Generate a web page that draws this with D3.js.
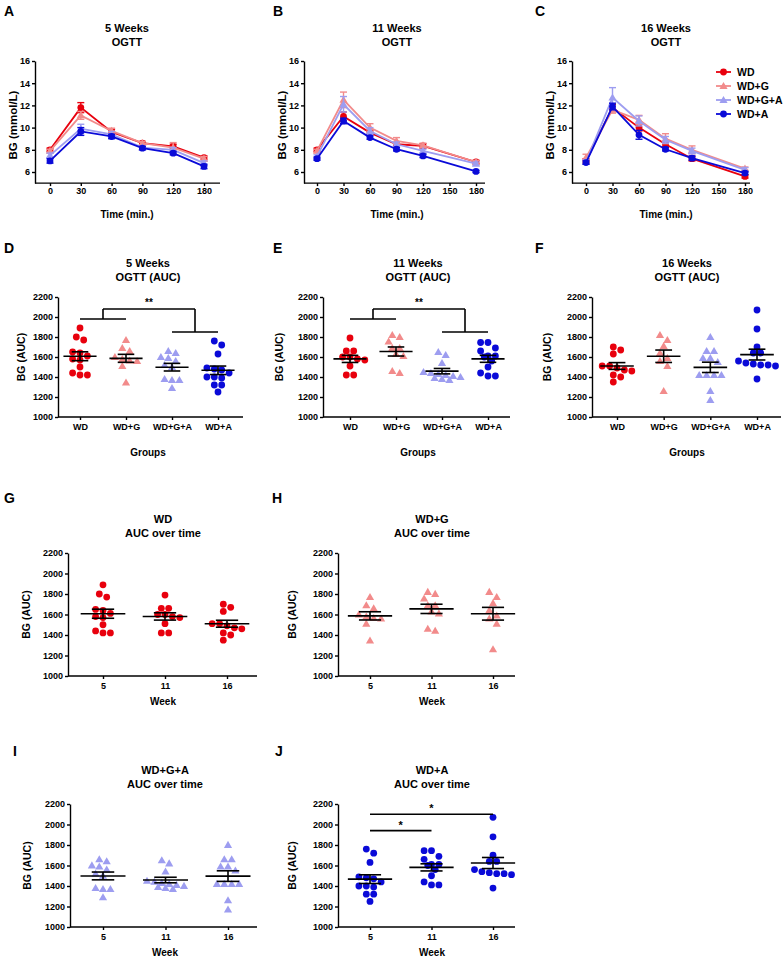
<!DOCTYPE html>
<html><head><meta charset="utf-8">
<script src="https://cdn.jsdelivr.net/npm/d3@7"></script>
<style>
body{margin:0;background:#fff;}
text{font-family:"Liberation Sans",Arial,sans-serif;font-weight:bold;fill:#000;}
.ax path,.ax line{stroke:#000;stroke-width:1.4;}
.ax text{font-size:9px;font-family:"Liberation Sans",Arial,sans-serif;font-weight:bold;}
</style>
</head><body>
<svg id="c" width="783" height="959"></svg>
<script>
// ---------------- DATA ----------------
const groups = ["WD", "WD+G", "WD+G+A", "WD+A"];
const groupColors = ["#e8000d", "#f28b8b", "#9d9df0", "#0a0ad8"];
const groupShapes = ["circle", "triangle", "triangle", "circle"];
const times = [0, 30, 60, 90, 120, 180];
const weekLabels = ["5", "11", "16"];

// OGTT means (rows: WD, WD+G, WD+G+A, WD+A) and SEMs, mmol/L
const ogtt5Mean = [
  [8.0, 11.8, 9.6, 8.6, 8.3, 7.3],
  [7.9, 11.1, 9.7, 8.6, 8.2, 7.2],
  [7.5, 9.9, 9.4, 8.2, 8.0, 6.8],
  [7.0, 9.65, 9.2, 8.15, 7.7, 6.5]
];
const ogtt5Sem = [
  [0.15, 0.45, 0.25, 0.15, 0.2, 0.15],
  [0.15, 0.35, 0.25, 0.15, 0.45, 0.2],
  [0.2, 0.4, 0.25, 0.15, 0.2, 0.2],
  [0.2, 0.35, 0.2, 0.15, 0.15, 0.2]
];
const ogtt11Mean = [
  [8.0, 11.0, 9.55, 8.5, 8.35, 6.9],
  [7.9, 12.5, 10.0, 8.8, 8.4, 6.9],
  [7.4, 12.1, 9.7, 8.5, 7.9, 6.75],
  [7.2, 10.6, 9.1, 8.05, 7.45, 6.05]
];
const ogtt11Sem = [
  [0.15, 0.4, 0.2, 0.15, 0.2, 0.15],
  [0.15, 0.7, 0.35, 0.3, 0.2, 0.15],
  [0.15, 0.7, 0.3, 0.2, 0.15, 0.15],
  [0.15, 0.25, 0.15, 0.15, 0.15, 0.1]
];
const ogtt16Mean = [
  [7.0, 11.8, 10.0, 8.5, 7.2, 5.6],
  [7.3, 11.6, 10.7, 9.0, 8.0, 6.3],
  [6.9, 12.7, 10.6, 8.9, 7.9, 6.2],
  [6.85, 11.9, 9.35, 8.05, 7.25, 5.9]
];
const ogtt16Sem = [
  [0.2, 0.3, 0.3, 0.2, 0.2, 0.15],
  [0.3, 0.3, 0.4, 0.45, 0.35, 0.15],
  [0.2, 0.9, 0.45, 0.3, 0.25, 0.2],
  [0.15, 0.3, 0.4, 0.15, 0.2, 0.15]
];

// AUC individual values
const aucWD5 = [1890, 1800, 1770, 1650, 1640, 1610, 1570, 1580, 1500, 1440, 1420, 1420];
const aucWD11 = [1790, 1660, 1660, 1600, 1600, 1570, 1580, 1510, 1420, 1420];
const aucWD16 = [1700, 1670, 1630, 1510, 1510, 1490, 1470, 1460, 1420, 1400, 1350];
const aucWDG5 = [1770, 1690, 1660, 1600, 1580, 1565, 1560, 1510, 1345];
const aucWDG11 = [1820, 1800, 1755, 1690, 1690, 1630, 1610, 1440, 1460];
const aucWDG16 = [1820, 1770, 1710, 1640, 1590, 1560, 1510, 1260];
const aucWDGA5 = [1660, 1640, 1600, 1590, 1560, 1520, 1500, 1380, 1370, 1370, 1290];
const aucWDGA11 = [1650, 1620, 1540, 1450, 1440, 1430, 1420, 1410, 1400, 1390, 1380, 1370];
const aucWDGA16 = [1800, 1660, 1660, 1590, 1590, 1550, 1420, 1420, 1420, 1420, 1260, 1170];
const aucWDA5 = [1760, 1720, 1630, 1490, 1480, 1470, 1440, 1400, 1400, 1390, 1320, 1320, 1250];
const aucWDA11 = [1745, 1745, 1690, 1660, 1610, 1610, 1600, 1560, 1500, 1440, 1410, 1410];
const aucWDA16 = [2070, 1880, 1700, 1640, 1640, 1560, 1540, 1530, 1520, 1520, 1510, 1380];

// ---------------- DRAWING ----------------
const svg = d3.select("#c");

function text(g, x, y, s, size, anchor = "middle", rotate = false) {
  const t = g.append("text").attr("x", x).attr("y", y).attr("font-size", size)
    .attr("text-anchor", anchor).text(s);
  if (rotate) t.attr("transform", `rotate(-90,${x},${y})`);
  return t;
}

function marker(g, shape, color, cx, cy) {
  if (shape === "circle") {
    g.append("circle").attr("cx", cx).attr("cy", cy).attr("r", 3.4).attr("fill", color);
  } else {
    g.append("path").attr("d", d3.symbol(d3.symbolTriangle, 29)())
      .attr("transform", `translate(${cx},${cy + 0.6})`).attr("fill", color);
  }
}

function ogttPanel(o) {
  const g = svg.append("g");
  const y = d3.scaleLinear().domain([5, 16]).range([o.yBottom, o.yTop]);
  const x = o.point ? d3.scalePoint().domain(times).range([o.x0, o.x180])
                    : d3.scaleLinear().domain([0, 180]).range([o.x0, o.x180]);
  g.append("g").attr("class", "ax").attr("transform", `translate(${o.axisX},0)`)
    .call(d3.axisLeft(y).tickValues(d3.range(6, 17, 2)).tickFormat(d3.format("d")).tickSize(3).tickPadding(2).tickSizeOuter(0));
  const xa = g.append("g").attr("class", "ax").attr("transform", `translate(0,${o.yBottom})`)
    .call(d3.axisBottom(x).tickValues(o.point ? times : d3.range(0, 181, 30)).tickFormat(d3.format("d")).tickSize(3).tickPadding(2));
  xa.select(".domain").remove();
  g.append("line").attr("x1", o.axisX).attr("x2", o.axisEnd).attr("y1", o.yBottom).attr("y2", o.yBottom)
    .attr("stroke", "#000").attr("stroke-width", 1.4);

  const line = d3.line().x(d => x(d.t)).y(d => y(d.m));
  for (let s = 0; s < groups.length; s++) {
    const pts = times.map((t, i) => ({ t, m: o.mean[s][i], e: o.sem[s][i] }));
    const sg = g.append("g");
    sg.append("path").attr("d", line(pts)).attr("fill", "none")
      .attr("stroke", groupColors[s]).attr("stroke-width", 1.8);
    pts.forEach(p => {
      const cx = x(p.t);
      sg.append("line").attr("x1", cx).attr("x2", cx).attr("y1", y(p.m - p.e)).attr("y2", y(p.m + p.e))
        .attr("stroke", groupColors[s]).attr("stroke-width", 1.4);
      [p.m - p.e, p.m + p.e].forEach(v => sg.append("line").attr("x1", cx - 3.5).attr("x2", cx + 3.5)
        .attr("y1", y(v)).attr("y2", y(v)).attr("stroke", groupColors[s]).attr("stroke-width", 1.4));
      marker(sg, groupShapes[s], groupColors[s], cx, y(p.m));
    });
  }
  text(g, o.letterX, o.letterY, o.letter, 14, "start");
  text(g, o.titleX, o.titleY, o.title[0], 11);
  text(g, o.titleX, o.titleY + 14, o.title[1], 11);
  text(g, o.titleX, o.yBottom + 35, "Time (min.)", 10);
  text(g, o.axisX - 18, (o.yTop + o.yBottom) / 2 + 3, "BG (mmol/L)", 11.5, "middle", true);
  return g;
}

function swarm(values, y, cx, d) {
  const order = values.map(v => ({ v, y: y(v) })).sort((a, b) => b.v - a.v);
  const rows = [];
  order.forEach(p => {
    const r = rows[rows.length - 1];
    if (r && Math.abs(p.y - r[0].y) < d * 0.8) r.push(p); else rows.push([p]);
  });
  const placed = [];
  rows.forEach(r => {
    const n = r.length;
    const shifts = [0, d / 2, -d / 2, d, -d];
    let chosen = 0;
    for (const sh of shifts) {
      const ok = r.every((p, i) => {
        const px = cx + (i - (n - 1) / 2) * d + sh;
        return placed.every(q => Math.hypot(q.x - px, q.y - p.y) >= d * 0.92);
      });
      if (ok) { chosen = sh; break; }
    }
    r.forEach((p, i) => { p.x = cx + (i - (n - 1) / 2) * d + chosen; placed.push(p); });
  });
  return placed;
}

function aucPanel(o) {
  const g = svg.append("g");
  const y = d3.scaleLinear().domain([1000, 2200]).range([o.yBottom, o.yTop]);
  const x = d3.scalePoint().domain(o.cats).range([o.c0, o.c1]);
  const step = (o.c1 - o.c0) / (o.cats.length - 1);
  g.append("g").attr("class", "ax").attr("transform", `translate(${o.axisX},0)`)
    .call(d3.axisLeft(y).tickValues(d3.range(1000, 2201, 200)).tickFormat(d3.format("d")).tickSize(3).tickPadding(2).tickSizeOuter(0));
  const xa = g.append("g").attr("class", "ax").attr("transform", `translate(0,${o.yBottom})`)
    .call(d3.axisBottom(x).tickSize(3).tickPadding(4));
  xa.select(".domain").remove();
  g.append("line").attr("x1", o.axisX).attr("x2", o.axisEnd).attr("y1", o.yBottom).attr("y2", o.yBottom)
    .attr("stroke", "#000").attr("stroke-width", 1.4);

  o.series.forEach((s, i) => {
    const cx = x(o.cats[i]);
    const pts = swarm(s.values, y, cx, 7.4);
    pts.forEach(p => marker(g, s.shape, s.color, p.x, p.y));
  });
  o.series.forEach((s, i) => {
    const cx = x(o.cats[i]);
    const m = d3.mean(s.values);
    const se = d3.deviation(s.values) / Math.sqrt(s.values.length);
    const hw = step * 0.36, cw = step * 0.18;
    const L = (x1, x2, y1, y2) => g.append("line").attr("x1", x1).attr("x2", x2).attr("y1", y1).attr("y2", y2)
      .attr("stroke", "#000").attr("stroke-width", 1.6);
    L(cx - hw, cx + hw, y(m), y(m));
    L(cx, cx, y(m - se), y(m + se));
    L(cx - cw, cx + cw, y(m - se), y(m - se));
    L(cx - cw, cx + cw, y(m + se), y(m + se));
  });
  text(g, o.letterX, o.letterY, o.letter, 14, "start");
  text(g, o.titleX, o.titleY, o.title[0], 11);
  text(g, o.titleX, o.titleY + 14, o.title[1], 11);
  text(g, o.titleX, o.xTitleY, o.xTitle, 10);
  text(g, o.ylabX, (o.yTop + o.yBottom) / 2, "BG (AUC)", 10.5, "middle", true);
  return { g, x, y };
}

function bline(g, x1, x2, y1, y2) {
  g.append("line").attr("x1", x1).attr("x2", x2).attr("y1", y1).attr("y2", y2)
    .attr("stroke", "#000").attr("stroke-width", 1.6);
}
function groupBracket(p) {
  const { g, x, y } = p;
  const a = (x(groups[0]) + x(groups[1])) / 2, b = (x(groups[2]) + x(groups[3])) / 2;
  bline(g, x(groups[0]), x(groups[1]), y(1980), y(1980));
  bline(g, a, a, y(1980), y(2080));
  bline(g, x(groups[2]), x(groups[3]), y(1850), y(1850));
  bline(g, b, b, y(1850), y(2080));
  bline(g, a, b, y(2080), y(2080));
  text(g, (a + b) / 2, y(2080) - 3, "**", 10);
}

// Row 1: OGTT curves
ogttPanel({ point: true, axisX: 35, axisEnd: 220, x0: 50, x180: 204, yTop: 61, yBottom: 183.1,
  mean: ogtt5Mean, sem: ogtt5Sem, letter: "A", letterX: 4, letterY: 16,
  title: ["5 Weeks", "OGTT"], titleX: 127, titleY: 32 });
ogttPanel({ point: false, axisX: 304, axisEnd: 485, x0: 317, x180: 476, yTop: 61, yBottom: 183.1,
  mean: ogtt11Mean, sem: ogtt11Sem, letter: "B", letterX: 273, letterY: 16,
  title: ["11 Weeks", "OGTT"], titleX: 397, titleY: 32 });
const gC = ogttPanel({ point: false, axisX: 572, axisEnd: 750, x0: 586, x180: 745, yTop: 61, yBottom: 183.1,
  mean: ogtt16Mean, sem: ogtt16Sem, letter: "C", letterX: 535, letterY: 16,
  title: ["16 Weeks", "OGTT"], titleX: 666, titleY: 32 });
// legend
groups.forEach((grp, i) => {
  const cy = 72 + i * 14;
  gC.append("line").attr("x1", 716).attr("x2", 731).attr("y1", cy).attr("y2", cy)
    .attr("stroke", groupColors[i]).attr("stroke-width", 1.8);
  marker(gC, groupShapes[i], groupColors[i], 723.5, cy);
  text(gC, 737, cy + 3.8, grp, 10.5, "start");
});

// Row 2: AUC by group
const mk = (vals, gi) => ({ values: vals, color: groupColors[gi], shape: groupShapes[gi] });
const pD = aucPanel({ axisX: 58, axisEnd: 243, yTop: 297, yBottom: 417, c0: 80, c1: 218, cats: groups,
  series: [mk(aucWD5, 0), mk(aucWDG5, 1), mk(aucWDGA5, 2), mk(aucWDA5, 3)],
  letter: "D", letterX: 4, letterY: 253, title: ["5 Weeks", "OGTT (AUC)"], titleX: 148, titleY: 267,
  xTitle: "Groups", xTitleY: 456, ylabX: 25 });
groupBracket(pD);
const pE = aucPanel({ axisX: 323, axisEnd: 510, yTop: 297, yBottom: 417, c0: 350, c1: 488, cats: groups,
  series: [mk(aucWD11, 0), mk(aucWDG11, 1), mk(aucWDGA11, 2), mk(aucWDA11, 3)],
  letter: "E", letterX: 273, letterY: 253, title: ["11 Weeks", "OGTT (AUC)"], titleX: 418, titleY: 267,
  xTitle: "Groups", xTitleY: 456, ylabX: 283 });
groupBracket(pE);
aucPanel({ axisX: 592, axisEnd: 781, yTop: 297, yBottom: 417, c0: 617, c1: 757, cats: groups,
  series: [mk(aucWD16, 0), mk(aucWDG16, 1), mk(aucWDGA16, 2), mk(aucWDA16, 3)],
  letter: "F", letterX: 535, letterY: 253, title: ["16 Weeks", "OGTT (AUC)"], titleX: 687, titleY: 267,
  xTitle: "Groups", xTitleY: 456, ylabX: 551 });

// Rows 3-4: AUC over time
aucPanel({ axisX: 68, axisEnd: 257, yTop: 553, yBottom: 676, c0: 103, c1: 227, cats: weekLabels,
  series: [mk(aucWD5, 0), mk(aucWD11, 0), mk(aucWD16, 0)],
  letter: "G", letterX: 4, letterY: 503, title: ["WD", "AUC over time"], titleX: 163, titleY: 523,
  xTitle: "Week", xTitleY: 705, ylabX: 30 });
aucPanel({ axisX: 338, axisEnd: 515, yTop: 553, yBottom: 676, c0: 370, c1: 493, cats: weekLabels,
  series: [mk(aucWDG5, 1), mk(aucWDG11, 1), mk(aucWDG16, 1)],
  letter: "H", letterX: 272, letterY: 503, title: ["WD+G", "AUC over time"], titleX: 432, titleY: 523,
  xTitle: "Week", xTitleY: 705, ylabX: 296 });
aucPanel({ axisX: 70, axisEnd: 257, yTop: 804, yBottom: 927, c0: 103, c1: 228, cats: weekLabels,
  series: [mk(aucWDGA5, 2), mk(aucWDGA11, 2), mk(aucWDGA16, 2)],
  letter: "I", letterX: 13, letterY: 756, title: ["WD+G+A", "AUC over time"], titleX: 165, titleY: 774,
  xTitle: "Week", xTitleY: 956, ylabX: 31 });
const pJ = aucPanel({ axisX: 338, axisEnd: 515, yTop: 804, yBottom: 927, c0: 370, c1: 493, cats: weekLabels,
  series: [mk(aucWDA5, 3), mk(aucWDA11, 3), mk(aucWDA16, 3)],
  letter: "J", letterX: 275, letterY: 756, title: ["WD+A", "AUC over time"], titleX: 432, titleY: 774,
  xTitle: "Week", xTitleY: 956, ylabX: 296 });
{
  const { g, x, y } = pJ;
  bline(g, x("5"), x("16"), y(2100), y(2100));
  text(g, (x("5") + x("16")) / 2, y(2100) - 2, "*", 11);
  bline(g, x("5"), x("11"), y(1940), y(1940));
  text(g, (x("5") + x("11")) / 2, y(1940) - 2, "*", 11);
}
</script>
</body></html>
